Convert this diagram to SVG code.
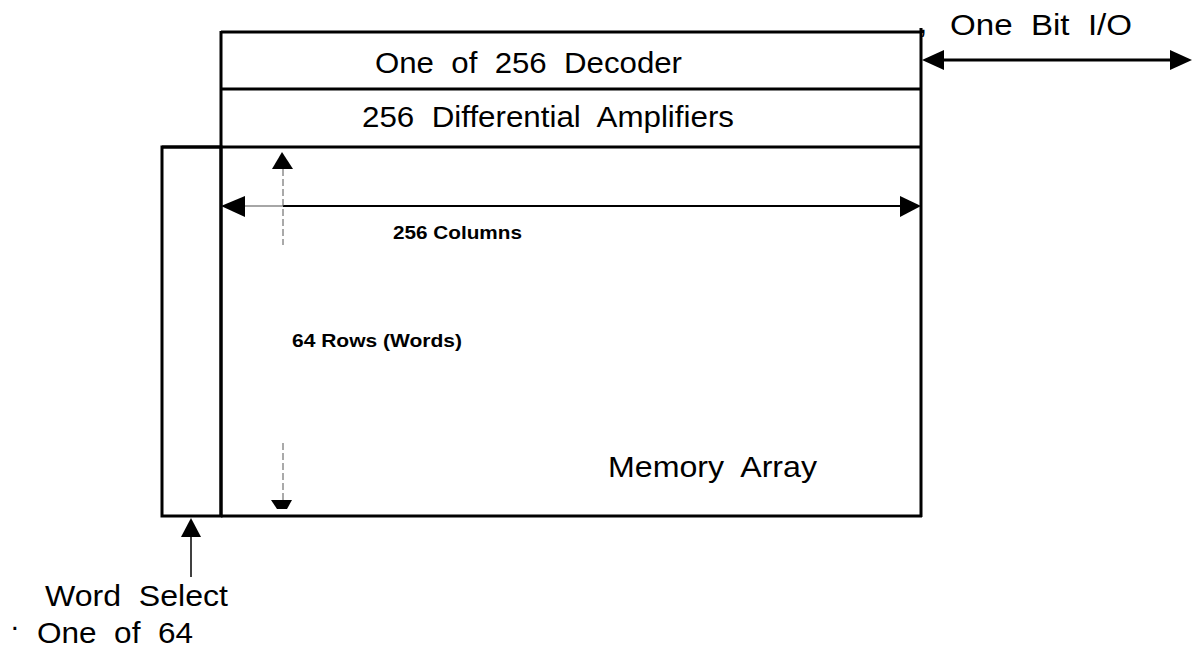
<svg xmlns="http://www.w3.org/2000/svg" width="1192" height="649" viewBox="0 0 1192 649">
<style>
.box{fill:none;stroke:#000;stroke-width:3}
.lbl{font-family:"Liberation Sans",Arial,sans-serif;font-size:29px;fill:#000}
.bold{font-family:"Liberation Sans",Arial,sans-serif;font-size:18px;font-weight:bold;fill:#000}
.ln{stroke:#000;fill:none}
.dash{stroke:#555;stroke-width:1;stroke-dasharray:7 3;fill:none}
.ah{fill:#000}
</style>
<rect width="1192" height="649" fill="#fff"/>
<g id="decoder">
<line class="ln" stroke-width="3" x1="221" y1="32" x2="921" y2="32"/>
<line class="ln" stroke-width="3" x1="221" y1="89" x2="921" y2="89"/>
<text class="lbl" x="375" y="73" textLength="307" lengthAdjust="spacingAndGlyphs" xml:space="preserve">One  of  256  Decoder</text>
</g>
<g id="amplifiers">
<line class="ln" stroke-width="3" x1="162" y1="147" x2="921" y2="147"/>
<text class="lbl" x="362" y="127" textLength="372" lengthAdjust="spacingAndGlyphs" xml:space="preserve">256  Differential  Amplifiers</text>
</g>
<g id="memory-array">
<line class="ln" stroke-width="3" x1="221" y1="31" x2="221" y2="517"/>
<line class="ln" stroke-width="3" x1="921" y1="28" x2="921" y2="517"/>
<line class="ln" stroke-width="3" x1="221" y1="516" x2="922" y2="516"/>
<text class="lbl" x="608" y="477" textLength="209" lengthAdjust="spacingAndGlyphs" xml:space="preserve">Memory  Array</text>
<text class="bold" x="393" y="239" textLength="129" lengthAdjust="spacingAndGlyphs">256 Columns</text>
<text class="bold" x="292" y="347" textLength="170" lengthAdjust="spacingAndGlyphs">64 Rows (Words)</text>
</g>
<g id="word-select">
<rect class="box" x="162" y="147" width="59" height="369"/>
<text class="lbl" x="45" y="606" textLength="183" lengthAdjust="spacingAndGlyphs" xml:space="preserve">Word  Select</text>
<text class="lbl" x="10" y="636" font-size="14">·</text>
<text class="lbl" x="37" y="643" textLength="156" lengthAdjust="spacingAndGlyphs" xml:space="preserve">One  of  64</text>
</g>
<g id="io">
<text class="lbl" x="919" y="33">,</text>
<text class="lbl" x="950" y="35" textLength="182" lengthAdjust="spacingAndGlyphs" xml:space="preserve">One  Bit  I/O</text>
</g>
<g id="connectors">
<line class="ln" stroke-width="3" x1="942" y1="60" x2="1172" y2="60"/>
<polygon class="ah" points="922,60 944,50 944,70"/>
<polygon class="ah" points="1192,60 1170,50 1170,70"/>
<line stroke="#888" stroke-width="1.5" x1="244" y1="206" x2="283" y2="206"/>
<line class="ln" stroke-width="2" x1="283" y1="206" x2="902" y2="206"/>
<polygon class="ah" points="221,206 245,196 245,217"/>
<polygon class="ah" points="921,206 900,196 900,217"/>
<polygon class="ah" points="282,152 272,169 293,169"/>
<line class="dash" x1="283" y1="169" x2="283" y2="245"/>
<line class="dash" x1="283" y1="443" x2="283" y2="500"/>
<polygon class="ah" points="271,500 292,500 287,509 277,509"/>
<line class="ln" stroke-width="1.5" x1="191" y1="535" x2="191" y2="577"/>
<polygon class="ah" points="191,518 181,537 201,537"/>
</g>
</svg>
